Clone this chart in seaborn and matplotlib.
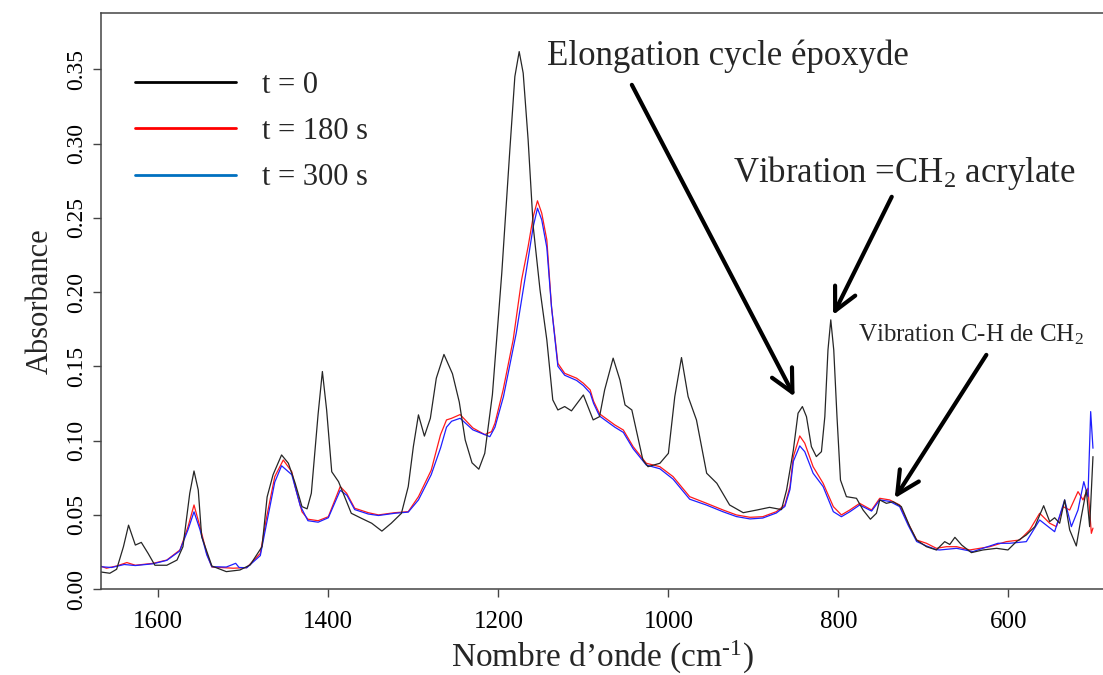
import matplotlib
matplotlib.use("Agg")
import matplotlib.pyplot as plt
from matplotlib.lines import Line2D
import seaborn as sns
import pandas as pd

# ---------------- data ----------------
wn_t0 = [1668, 1657, 1649, 1641, 1635, 1627, 1620, 1612, 1604, 1590, 1578, 1571, 1563, 1558,
         1553, 1549, 1537, 1520, 1504, 1492, 1478, 1472, 1465, 1455, 1447, 1439, 1431, 1425,
         1420, 1412, 1407, 1402, 1396, 1388, 1380, 1373, 1361, 1349, 1337, 1326, 1314, 1306,
         1300, 1294, 1287, 1280, 1273, 1264, 1254, 1246, 1239, 1231, 1223, 1216, 1207, 1196,
         1186.5, 1180.6, 1175.5, 1170.8, 1165, 1159, 1151, 1143, 1136, 1130, 1122, 1114, 1100,
         1088.5, 1081, 1075, 1065, 1057, 1051, 1043, 1036, 1030, 1024, 1010, 1000, 992.5, 984.6,
         976.8, 967, 955, 943, 928, 912, 896, 881, 867, 861, 853, 847.5, 842.4, 837.6, 831.8,
         826, 820, 816, 812.3, 809, 805.5, 801.7, 797.6, 790.6, 778.8, 771, 762.4, 755.3, 751.4,
         743.6, 735.8, 726, 716, 708, 696.5, 684.8, 675, 669, 663, 655, 643.6, 630, 614, 600.6,
         590.7, 579, 569, 558.6, 551.5, 545.7, 539.8, 533.9, 528, 520.2, 514.3, 508.4, 504.5, 500.6]
abs_t0 = [0.0115, 0.0106, 0.0133, 0.0285, 0.0430, 0.0296, 0.0314, 0.0240, 0.0160, 0.0160, 0.0195,
          0.0285, 0.0645, 0.0795, 0.0667, 0.0353, 0.0155, 0.0117, 0.0128, 0.0162, 0.0285, 0.0620,
          0.0770, 0.0903, 0.0847, 0.0712, 0.0555, 0.0540, 0.0645, 0.1180, 0.1465, 0.1206, 0.0790,
          0.0723, 0.0610, 0.0510, 0.0476, 0.0443, 0.0390, 0.0443, 0.0510, 0.0690, 0.0959, 0.1173,
          0.1030, 0.1150, 0.1420, 0.1580, 0.1450, 0.1260, 0.1004, 0.0850, 0.0807, 0.0914, 0.1310,
          0.2127, 0.2958, 0.3452, 0.3620, 0.3475, 0.3026, 0.2441, 0.2015, 0.1678, 0.1274, 0.1206,
          0.1229, 0.1200, 0.1307, 0.1139, 0.1161, 0.1341, 0.1555, 0.1408, 0.1240, 0.1206, 0.1026,
          0.0869, 0.0824, 0.0847, 0.0914, 0.1296, 0.1559, 0.1296, 0.1139, 0.0780, 0.0712, 0.0566,
          0.0514, 0.0532, 0.0550, 0.0535, 0.0667, 0.0937, 0.1184, 0.1229, 0.1161, 0.0959, 0.0892,
          0.0925, 0.1161, 0.1610, 0.1813, 0.1610, 0.1161, 0.0734, 0.0622, 0.0611, 0.0532, 0.0470,
          0.0510, 0.0600, 0.0577, 0.0588, 0.0555, 0.0420, 0.0330, 0.0285, 0.0263, 0.0319, 0.0300,
          0.0348, 0.0296, 0.0245, 0.0263, 0.0274, 0.0263, 0.0319, 0.0364, 0.0420, 0.0561, 0.0454,
          0.0480, 0.0443, 0.0600, 0.0398, 0.0290, 0.0487, 0.0667, 0.0420, 0.0892]

wn_t180 = [1668, 1661, 1649, 1637, 1627, 1606, 1590, 1574.5, 1565, 1558, 1551, 1543, 1537, 1512,
           1496, 1480, 1472.5, 1463, 1453, 1443, 1439, 1431, 1424, 1412, 1400, 1386, 1378.5, 1369,
           1353, 1341, 1322, 1306, 1294, 1279, 1268, 1261, 1255, 1245, 1230, 1216, 1208, 1204,
           1194.4, 1182.6, 1172.7, 1165, 1159, 1154, 1149, 1143, 1137.5, 1130, 1122, 1108, 1100,
           1092, 1088, 1081, 1063, 1053, 1041.5, 1026, 1010, 994.5, 975, 955, 935.6, 920, 904, 889,
           873, 863, 857, 853, 845.5, 839.6, 829.8, 818, 806, 796.5, 786.7, 775, 761, 751.4, 739.7,
           728, 718, 708, 696.5, 684.8, 673, 661, 645.6, 622, 602.5, 586.8, 575, 563.3, 551.5,
           543.6, 535.8, 528, 518.2, 512.3, 506.5, 502.5, 500.6]
abs_t180 = [0.0155, 0.0140, 0.0155, 0.0178, 0.0160, 0.0173, 0.0195, 0.0263, 0.0420, 0.0566, 0.0420,
            0.0240, 0.0148, 0.0140, 0.0144, 0.0240, 0.0487, 0.0757, 0.0869, 0.0790, 0.0690, 0.0520,
            0.0470, 0.0460, 0.0487, 0.0690, 0.0645, 0.0544, 0.0514, 0.0499, 0.0514, 0.0521, 0.0622,
            0.0800, 0.1040, 0.1139, 0.1150, 0.1175, 0.1085, 0.1040, 0.1060, 0.1117, 0.1341, 0.1678,
            0.2082, 0.2307, 0.2509, 0.2615, 0.2532, 0.2352, 0.1902, 0.1520, 0.1453, 0.1420, 0.1386,
            0.1341, 0.1265, 0.1180, 0.1105, 0.1071, 0.0959, 0.0847, 0.0824, 0.0757, 0.0622, 0.0577,
            0.0532, 0.0499, 0.0483, 0.0487, 0.0521, 0.0566, 0.0690, 0.0892, 0.1031, 0.0982, 0.0824,
            0.0712, 0.0555, 0.0499, 0.0532, 0.0577, 0.0532, 0.0611, 0.0600, 0.0566, 0.0443, 0.0330,
            0.0308, 0.0274, 0.0285, 0.0285, 0.0263, 0.0285, 0.0319, 0.0330, 0.0398, 0.0510, 0.0443,
            0.0420, 0.0555, 0.0532, 0.0656, 0.0600, 0.0679, 0.0375, 0.0410]

wn_t300 = [1668, 1655, 1640, 1627, 1606, 1590, 1575, 1565, 1558, 1551, 1543, 1537, 1520, 1509,
           1505, 1496, 1480, 1472, 1463, 1455, 1443, 1433, 1424, 1412, 1400, 1386, 1378, 1369,
           1353, 1341, 1322, 1306, 1294, 1279, 1268, 1261, 1255, 1245, 1230, 1210, 1204, 1194,
           1179, 1167, 1159, 1154, 1149, 1143, 1137.5, 1130, 1122, 1108, 1100, 1092, 1088, 1081,
           1063, 1053, 1041.5, 1026, 1010, 994.5, 975, 955, 935.6, 920, 904, 889, 873, 863, 857,
           853, 845.5, 839.6, 829.8, 818, 806, 796.5, 786.7, 775, 761, 751.4, 739.7, 728, 718, 708,
           696.5, 684.8, 680.8, 661, 641.7, 612.3, 598.6, 579, 563.3, 545.7, 533.9, 526, 518.2,
           511.4, 506.5, 503.3, 500.6]
abs_t300 = [0.0150, 0.0145, 0.0165, 0.0158, 0.0170, 0.0193, 0.0255, 0.0400, 0.0520, 0.0400, 0.0230,
            0.0150, 0.0148, 0.0173, 0.0145, 0.0143, 0.0225, 0.0460, 0.0720, 0.0830, 0.0770, 0.0560,
            0.0460, 0.0450, 0.0480, 0.0665, 0.0630, 0.0535, 0.0505, 0.0495, 0.0510, 0.0518, 0.0600,
            0.0770, 0.0950, 0.1090, 0.1130, 0.1150, 0.1072, 0.1026, 0.1090, 0.1296, 0.1723, 0.2150,
            0.2441, 0.2565, 0.2487, 0.2300, 0.1900, 0.1500, 0.1440, 0.1405, 0.1370, 0.1320, 0.1250,
            0.1165, 0.1090, 0.1055, 0.0945, 0.0835, 0.0810, 0.0740, 0.0605, 0.0565, 0.0520, 0.0488,
            0.0472, 0.0478, 0.0512, 0.0556, 0.0670, 0.0860, 0.0964, 0.0925, 0.0780, 0.0690, 0.0521,
            0.0487, 0.0520, 0.0566, 0.0525, 0.0600, 0.0590, 0.0555, 0.0430, 0.0320, 0.0290, 0.0265,
            0.0263, 0.0274, 0.0252, 0.0308, 0.0308, 0.0319, 0.0465, 0.0386, 0.0600, 0.0420, 0.0532,
            0.0723, 0.0622, 0.1195, 0.0948]

legend_labels = ["t = 0", "t = 180 s", "t = 300 s"]
x_ticks = [1600, 1400, 1200, 1000, 800, 600]
y_ticks = [0.00, 0.05, 0.10, 0.15, 0.20, 0.25, 0.30, 0.35]

# ---------------- style ----------------
sns.set_theme(style="white")
plt.rcParams["font.family"] = ["Liberation Serif", "DejaVu Serif"]
plt.rcParams["mathtext.fontset"] = "custom"
plt.rcParams["mathtext.rm"] = "Liberation Serif"
plt.rcParams["mathtext.it"] = "Liberation Serif:italic"

fig = plt.figure(figsize=(11.03, 6.75), dpi=100)
ax = fig.add_axes([101 / 1103, 86 / 675, 1002 / 1103, 576 / 675])

c_black, c_red, c_blue = "#262626", "#ff1a1a", "#1f1fff"

df0 = pd.DataFrame({"wn": wn_t0, "A": abs_t0})
df1 = pd.DataFrame({"wn": wn_t180, "A": abs_t180})
df2 = pd.DataFrame({"wn": wn_t300, "A": abs_t300})
sns.lineplot(data=df1, x="wn", y="A", ax=ax, color=c_red, lw=0.9, sort=False, estimator=None)
sns.lineplot(data=df2, x="wn", y="A", ax=ax, color=c_blue, lw=0.9, sort=False, estimator=None)
sns.lineplot(data=df0, x="wn", y="A", ax=ax, color=c_black, lw=0.9, sort=False, estimator=None)

ax.set_xlim(1667.4, 488.8)
ax.set_ylim(0, 0.388)
ax.set_xticks(x_ticks)
ax.set_xticklabels([str(v) for v in x_ticks], fontsize=18)
ax.set_yticks(y_ticks)
ax.set_yticklabels([f"{v:.2f}" for v in y_ticks], fontsize=17, rotation=90, va="center")
ax.tick_params(axis="both", direction="out", length=6, width=1, color="#444444",
               bottom=True, left=True, labelcolor="black")
ax.tick_params(axis="x", pad=10)
ax.tick_params(axis="y", pad=4)

for side in ["left", "top", "bottom"]:
    ax.spines[side].set_color("#444444")
    ax.spines[side].set_linewidth(1.1)
ax.spines["right"].set_visible(False)

ax.set_xlabel("Nombre d\u2019onde (cm$^{\u2010\\mathregular{1}}$)", fontsize=24, labelpad=4)
ax.set_ylabel("Absorbance", fontsize=22, labelpad=8)

handles = [Line2D([], [], color="black", lw=2),
           Line2D([], [], color="#ff0000", lw=2),
           Line2D([], [], color="#0070c0", lw=2)]
leg = ax.legend(handles, legend_labels, loc="upper left", frameon=False, fontsize=22,
                handlelength=3.3, handletextpad=0.85, labelspacing=0.56, borderpad=0,
                borderaxespad=0,
                bbox_to_anchor=(135 / 1103, 1 - 71 / 675), bbox_transform=fig.transFigure)

# annotations
ax.text(929.6, 0.3531, "Elongation cycle \u00e9poxyde", fontsize=25, ha="center", va="baseline")
ax.text(722.1, 0.2743, "Vibration =CH$_2$ acrylate", fontsize=25, ha="center", va="baseline")
ax.text(643.8, 0.1666, "Vibration C-H de CH$_2$", fontsize=18, ha="center", va="baseline")

arrow_kw = dict(arrowstyle="->,head_length=0.9,head_width=0.45", lw=3, color="black",
                shrinkA=0, shrinkB=0, mutation_scale=18)
ax.annotate("", xy=(851.6, 0.1296), xytext=(1043, 0.3396), arrowprops=arrow_kw)
ax.annotate("", xy=(806.3, 0.1846), xytext=(737.3, 0.2642), arrowprops=arrow_kw)
ax.annotate("", xy=(733.8, 0.0611), xytext=(626, 0.1577), arrowprops=arrow_kw)

fig.savefig("out.png", dpi=100)
